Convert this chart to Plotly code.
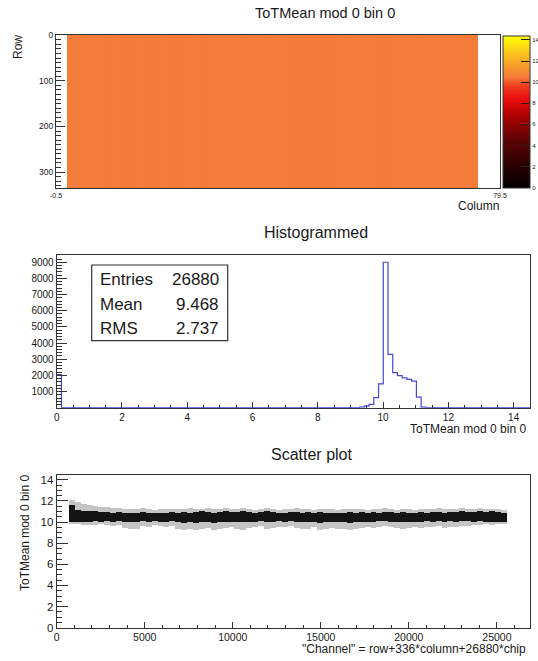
import plotly.graph_objects as go

W, H = 538, 661

# ---------------- data ----------------
# heat map: mean ToT per column (rows identical), None = empty column
heat_col_mean = [None, None,
                 10.56, 10.52, 10.5, 10.49, 10.49, 10.48, 10.48, 10.47, 10.48,
                 10.47, 10.46, 10.47, 10.48, 10.47, 10.47, 10.47, 10.47, 10.48,
                 10.47, 10.46, 10.47, 10.47, 10.48, 10.48, 10.46, 10.47, 10.48, 10.48,
                 10.47, 10.48, 10.48, 10.47, 10.48, 10.48, 10.48, 10.48, 10.47, 10.48,
                 10.48, 10.47, 10.47, 10.47, 10.47, 10.47, 10.47, 10.46, 10.47, 10.47,
                 10.47, 10.48, 10.47, 10.48, 10.48, 10.48, 10.48, 10.47, 10.47, 10.47,
                 10.47, 10.48, 10.48, 10.48, 10.48, 10.47, 10.48, 10.48, 10.49, 10.48,
                 10.48, 10.49, 10.48, 10.48, 10.47, 10.47,
                 None, None, None, None]
heat_n_rows = 336
heat_zmax = 14.4
heat_cbar_ticks = [0, 2, 4, 6, 8, 10, 12, 14]

# histogram of the ToT means
hist_bin_width = 0.145
hist_counts = ([2050] + [0] * 62 +
               [10, 40, 100, 200, 620, 1470, 9000, 3300, 2170, 1980,
                1850, 1750, 1640, 650, 30] + [0] * 22)
stats_labels = ["Entries", "Mean", "RMS"]
stats_values = ["26880", "9.468", "2.737"]

# scatter plot: per-column band of ToT mean values vs channel
scat_columns = list(range(2, 76))
scat_out_lo = [9.85, 9.8, 9.75, 9.7, 9.75, 9.8, 9.7, 9.65, 9.7,
               9.4, 9.3, 9.35, 9.6, 9.55, 9.7, 9.6, 9.5, 9.6,
               9.35, 9.25, 9.3, 9.2, 9.3, 9.4, 9.25, 9.3, 9.45, 9.5,
               9.3, 9.25, 9.4, 9.5, 9.6, 9.35, 9.45, 9.55, 9.5, 9.6,
               9.4, 9.3, 9.35, 9.5, 9.25, 9.3, 9.4, 9.3, 9.35, 9.25,
               9.3, 9.4, 9.5, 9.45, 9.55, 9.6, 9.5, 9.45, 9.35, 9.4,
               9.5, 9.45, 9.55, 9.5, 9.6, 9.45, 9.55, 9.5, 9.6, 9.65,
               9.7, 9.75, 9.8, 9.75, 9.8, 9.85]
scat_core_lo = [10.0, 10.05, 10.05, 10.05, 10.1, 10.05, 10.1, 10.05, 10.1,
                10.0, 10.0, 10.05, 10.1, 10.05, 10.1, 10.05, 10.05, 10.1,
                10.0, 9.95, 10.0, 9.95, 10.0, 10.05, 9.95, 10.0, 10.05, 10.05,
                10.0, 10.0, 10.05, 10.05, 10.1, 10.0, 10.05, 10.1, 10.05, 10.1,
                10.05, 10.0, 10.0, 10.05, 9.95, 10.0, 10.05, 10.0, 10.0, 9.95,
                10.0, 10.05, 10.05, 10.05, 10.1, 10.1, 10.05, 10.05, 10.0, 10.05,
                10.05, 10.05, 10.1, 10.05, 10.1, 10.05, 10.1, 10.05, 10.1, 10.1,
                10.05, 10.1, 10.05, 10.05, 10.0, 10.0]
scat_core_hi = [11.6, 11.1, 11.05, 11.0, 11.0, 10.95, 10.95, 10.9, 10.95,
                10.9, 10.85, 10.9, 10.95, 10.9, 10.85, 10.9, 10.9, 10.95,
                10.9, 10.95, 10.9, 10.95, 11.0, 10.95, 10.9, 10.95, 11.0, 10.95,
                10.95, 11.0, 10.95, 10.9, 10.95, 11.0, 10.95, 10.9, 10.9, 10.95,
                10.95, 10.9, 10.95, 10.9, 10.95, 10.9, 10.9, 10.85, 10.9, 10.95,
                10.9, 10.95, 10.9, 10.95, 10.9, 10.95, 10.95, 10.9, 10.95, 10.9,
                10.9, 10.95, 10.9, 10.95, 10.95, 10.9, 10.95, 10.95, 11.0, 10.95,
                10.95, 11.0, 10.95, 11.0, 10.95, 10.9]
scat_out_hi = [12.05, 11.9, 11.75, 11.6, 11.5, 11.45, 11.4, 11.35, 11.3,
               11.25, 11.2, 11.25, 11.3, 11.2, 11.15, 11.2, 11.25, 11.2,
               11.2, 11.25, 11.3, 11.2, 11.25, 11.3, 11.2, 11.25, 11.3, 11.2,
               11.25, 11.3, 11.2, 11.15, 11.25, 11.3, 11.2, 11.15, 11.2, 11.25,
               11.3, 11.2, 11.25, 11.15, 11.2, 11.25, 11.2, 11.15, 11.2, 11.25,
               11.2, 11.25, 11.15, 11.2, 11.25, 11.3, 11.2, 11.15, 11.25, 11.2,
               11.15, 11.2, 11.25, 11.2, 11.3, 11.2, 11.25, 11.2, 11.3, 11.2,
               11.25, 11.3, 11.2, 11.25, 11.2, 11.15]
rows_per_column = 336
scat_x_ticks = [0, 5000, 10000, 15000, 20000, 25000]

# ---------------- helpers (layout positions in pixels) ----------------
def px(x):
    return x / W


def py(y):
    return 1 - y / H


FONT = "Liberation Sans, Arial, Helvetica, sans-serif"
AX = "#333333"
TXT = "#1a1a1a"

fig = go.Figure()

# ---- heat map ----
z = [[v for v in heat_col_mean] for _ in range(heat_n_rows)]
fig.add_trace(go.Heatmap(
    z=z, x=list(range(len(heat_col_mean))), y=list(range(heat_n_rows)),
    zmin=0, zmax=heat_zmax, xaxis="x", yaxis="y",
    colorscale=[[0.0, "#000000"], [0.15, "#2a0000"], [0.33, "#640404"],
                [0.48, "#b00000"], [0.58, "#e80c0c"], [0.67, "#f03c1e"],
                [0.728, "#f47b3a"], [0.8, "#f89a2c"], [0.9, "#fccc1c"],
                [1.0, "#ffff00"]],
    hoverongaps=False,
    colorbar=dict(x=px(503), xanchor="left", xref="paper",
                  y=py(111.7), yanchor="middle",
                  len=152, lenmode="pixels", thickness=27,
                  thicknessmode="pixels", outlinewidth=1, outlinecolor=AX,
                  ticks="inside", ticklen=9, tickcolor="#222",
                  tickvals=heat_cbar_ticks, xpad=0, ypad=0,
                  tickfont=dict(size=6, color=TXT, family=FONT)),
))

# ---- histogram (step line) ----
edges = [k * hist_bin_width for k in range(len(hist_counts) + 1)]
fig.add_trace(go.Scatter(
    x=edges, y=hist_counts + [hist_counts[-1]], mode="lines",
    line=dict(shape="hv", color="#4646d8", width=1.2),
    xaxis="x2", yaxis="y2", showlegend=False, hoverinfo="skip",
))

# ---- scatter band ----
centers = [c * rows_per_column + rows_per_column / 2 for c in scat_columns]
fig.add_trace(go.Bar(
    x=centers, base=scat_out_lo,
    y=[h - l for h, l in zip(scat_out_hi, scat_out_lo)],
    width=rows_per_column,
    marker=dict(color="rgba(70,70,70,0.32)", line=dict(width=0)),
    xaxis="x3", yaxis="y3", showlegend=False, hoverinfo="skip",
))
fig.add_trace(go.Bar(
    x=centers, base=scat_core_lo,
    y=[h - l for h, l in zip(scat_core_hi, scat_core_lo)],
    width=rows_per_column, marker=dict(color="#141414", line=dict(width=0)),
    xaxis="x3", yaxis="y3", showlegend=False, hoverinfo="skip",
))

axis_common = dict(showline=True, linecolor=AX, linewidth=1, mirror=True,
                   showgrid=False, zeroline=False, tickcolor=AX)

fig.update_layout(
    width=W, height=H,
    margin=dict(l=0, r=0, t=0, b=0, autoexpand=False),
    paper_bgcolor="white", plot_bgcolor="white",
    barmode="overlay", bargap=0, showlegend=False,
    font=dict(family=FONT, color=TXT),
    # heat map axes
    xaxis=dict(domain=[px(56), px(500)], anchor="y", range=[-0.5, 79.5],
               tickmode="array", tickvals=[-0.5, 79.5], ticktext=["-0.5", "79.5"],
               ticks="", tickfont=dict(size=7, color=TXT), **axis_common),
    yaxis=dict(domain=[py(188.3), py(35)], anchor="x", range=[335.5, -0.5],
               tickmode="array", tickvals=[0, 100, 200, 300],
               ticks="inside", ticklen=9, tickwidth=1,
               minor=dict(tickmode="linear", tick0=0, dtick=10, ticks="inside",
                          ticklen=5, tickcolor=AX, showgrid=False),
               tickfont=dict(size=8.5, color=TXT), **axis_common),
    # histogram axes
    xaxis2=dict(domain=[px(56.7), px(530)], anchor="y2", range=[0, 14.5],
                tickmode="linear", tick0=0, dtick=2,
                ticks="inside", ticklen=6, tickwidth=1,
                minor=dict(tickmode="linear", tick0=0, dtick=0.5, ticks="inside",
                           ticklen=3, tickcolor=AX, showgrid=False),
                tickfont=dict(size=10, color=TXT), **axis_common),
    yaxis2=dict(domain=[py(407.7), py(255)], anchor="x2", range=[0, 9450],
                tickmode="array", tickvals=[1000 * k for k in range(1, 10)],
                ticks="inside", ticklen=10, tickwidth=1,
                minor=dict(tickmode="linear", tick0=0, dtick=200, ticks="inside",
                           ticklen=5, tickcolor=AX, showgrid=False),
                tickfont=dict(size=10, color=TXT), **axis_common),
    # scatter axes
    xaxis3=dict(domain=[px(56.7), px(530)], anchor="y3", range=[0, 26880],
                tickmode="array", tickvals=scat_x_ticks,
                ticktext=[str(v) for v in scat_x_ticks],
                ticks="inside", ticklen=6, tickwidth=1,
                minor=dict(tickmode="linear", tick0=0, dtick=1000, ticks="inside",
                           ticklen=3, tickcolor=AX, showgrid=False),
                tickfont=dict(size=10.5, color=TXT), **axis_common),
    yaxis3=dict(domain=[py(627.7), py(475)], anchor="x3", range=[0, 14.45],
                tickmode="linear", tick0=0, dtick=2,
                ticks="inside", ticklen=11, tickwidth=1,
                minor=dict(tickmode="linear", tick0=0, dtick=0.5, ticks="inside",
                           ticklen=5, tickcolor=AX, showgrid=False),
                tickfont=dict(size=11.5, color=TXT), **axis_common),
)

ann = []


def add_text(text, x, y, size, xanchor="center", yanchor="middle", angle=0):
    ann.append(dict(text=text, x=px(x), y=py(y), xref="paper", yref="paper",
                    xanchor=xanchor, yanchor=yanchor, showarrow=False,
                    textangle=angle, font=dict(size=size, color=TXT, family=FONT)))


add_text("ToTMean mod 0 bin 0", 325, 13.3, 14.5)
add_text("Row", 18, 47, 12, angle=-90)
add_text("Column", 500.5, 206, 12, xanchor="right")
add_text("Histogrammed", 315.5, 232.5, 16)
add_text("ToTMean mod 0 bin 0", 528, 429.3, 12, xanchor="right")
add_text("Scatter plot", 311.5, 454, 16)
add_text('"Channel" = row+336*column+26880*chip', 528, 649, 12, xanchor="right")
add_text("ToTMean mod 0 bin 0", 25, 473, 12, yanchor="top", angle=-90)

stat_rows_y = [279.3, 304.3, 328.3]
for lab, val, yy in zip(stats_labels, stats_values, stat_rows_y):
    add_text(lab, 98, yy, 17, xanchor="left")
    add_text(val, 220.5, yy, 17, xanchor="right")

fig.update_layout(annotations=ann)
fig.add_shape(type="rect", xref="paper", yref="paper",
              x0=px(91.7), x1=px(227.7), y0=py(340.7), y1=py(265),
              line=dict(color=AX, width=1.2), fillcolor="rgba(0,0,0,0)")

fig.write_html("out.html")
